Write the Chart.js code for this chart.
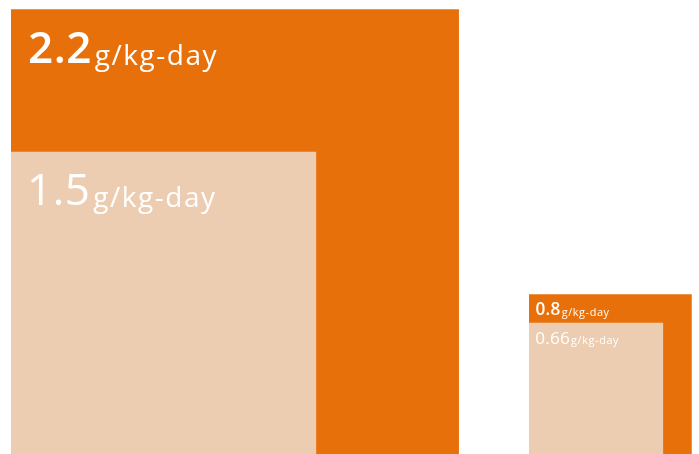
<!DOCTYPE html>
<html>
<head>
<meta charset="utf-8">
<script src="https://cdn.jsdelivr.net/npm/chart.js@4"></script>
<style>
  html, body { margin: 0; padding: 0; background: #ffffff; }
  #wrap { width: 699px; height: 454px; }
</style>
</head>
<body>
<div id="wrap"><canvas id="c" width="699" height="454"></canvas></div>
<script>
// ---- data ----
const groups = ['Group A', 'Group B'];
const outerValues = [2.2, 0.8];     // g/kg-day
const innerValues = [1.5, 0.66];    // g/kg-day
const unitLabel = 'g/kg-day';

// ---- layout constants (not data) ----
const groupStarts = [0, 2.544];
const ORANGE = '#E8700B';
const PEACH = '#EDCDB1';
const FONT = '"Open Sans", "Noto Sans", sans-serif';

function squareData(start, v) {
  return [
    { x: start, y: 0 },
    { x: start, y: v },
    { x: start + v, y: v },
    { x: start + v, y: 0 }
  ];
}

const datasets = [];
groups.forEach((g, i) => {
  datasets.push({
    label: g + ' outer', data: squareData(groupStarts[i], outerValues[i]),
    value: outerValues[i], groupMax: outerValues[i], start: groupStarts[i], bold: true,
    backgroundColor: ORANGE, borderWidth: 0, showLine: true, fill: 'origin',
    pointRadius: 0, tension: 0, order: 2
  });
  datasets.push({
    label: g + ' inner', data: squareData(groupStarts[i], innerValues[i]),
    value: innerValues[i], groupMax: outerValues[i], start: groupStarts[i], bold: false,
    backgroundColor: PEACH, borderWidth: 0, showLine: true, fill: 'origin',
    pointRadius: 0, tension: 0, order: 1
  });
});

const labelPlugin = {
  id: 'squareLabels',
  afterDatasetsDraw(chart) {
    const ctx = chart.ctx;
    const xs = chart.scales.x, ys = chart.scales.y;
    chart.data.datasets.forEach(ds => {
      const s = Math.pow(ds.groupMax / 2.2, 0.93);
      const left = xs.getPixelForValue(ds.start);
      const top = ys.getPixelForValue(ds.value);
      const numSize = 44 * s;
      const unitSize = 28 * s;
      const x = left + (ds.bold ? 17 : 16) * s;
      const base = top + 53.5 * s;
      const numText = String(ds.value);
      ctx.save();
      ctx.fillStyle = '#ffffff';
      ctx.textBaseline = 'alphabetic';
      ctx.textAlign = 'left';
      ctx.font = (ds.bold ? '600 ' : '400 ') + numSize + 'px ' + FONT;
      ctx.letterSpacing = (0.5 * s) + 'px';
      ctx.fillText(numText, x, base);
      const w = ctx.measureText(numText).width;
      ctx.font = '400 ' + unitSize + 'px ' + FONT;
      ctx.letterSpacing = (1.5 * s) + 'px';
      ctx.fillText(unitLabel, x + w + 3 * s, base + 2 * s);
      ctx.restore();
    });
  }
};

new Chart(document.getElementById('c'), {
  type: 'scatter',
  data: { datasets },
  options: {
    responsive: false,
    devicePixelRatio: 1,
    animation: false,
    layout: { padding: 0 },
    plugins: { legend: { display: false }, tooltip: { enabled: false } },
    scales: {
      x: { type: 'linear', display: false, min: -0.054, max: 3.379 },
      y: { type: 'linear', display: false, min: 0.015, max: 2.245 }
    }
  },
  plugins: [labelPlugin]
});
</script>
</body>
</html>
